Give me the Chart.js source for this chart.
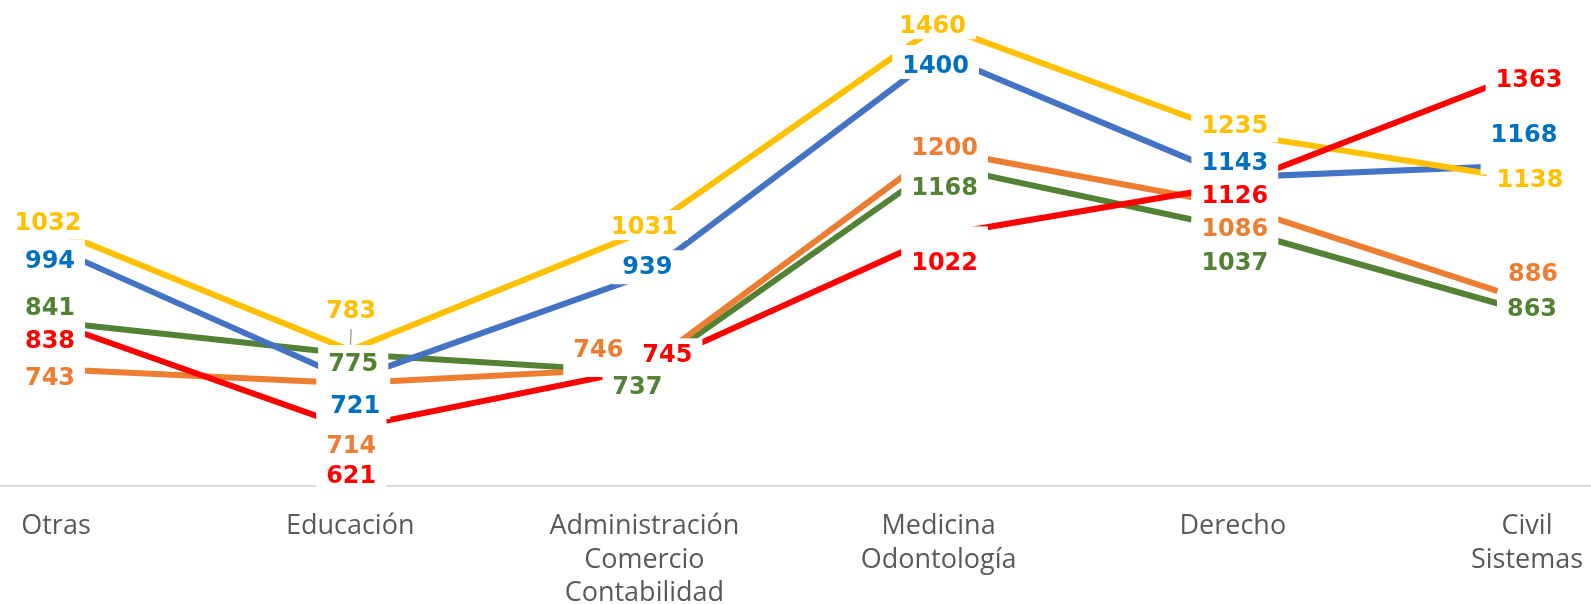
<!DOCTYPE html>
<html>
<head>
<meta charset="utf-8">
<script src="https://cdn.jsdelivr.net/npm/chart.js@4.4.0/dist/chart.umd.min.js"></script>
<style>
    html, body { margin: 0; padding: 0; background: #ffffff; }
    #contenedor { width: 1591px; height: 604px; }
</style>
</head>
<body>
<div id="contenedor"><canvas id="graficoCarreras" width="1591" height="604"></canvas></div>
<script>
// DATOS DEL GRAFICO
const categorias = [
    ["Otras"],
    ["Educación"],
    ["Administración", "Comercio", "Contabilidad"],
    ["Medicina", "Odontología"],
    ["Derecho"],
    ["Civil", "Sistemas"]
];
const serieAmarilla = [1032, 783, 1031, 1460, 1235, 1138];
const serieAzul = [994, 721, 939, 1400, 1143, 1168];
const serieVerde = [841, 775, 737, 1168, 1037, 863];
const serieRoja = [838, 621, 745, 1022, 1126, 1363];
const serieNaranja = [743, 714, 746, 1200, 1086, 886];
const ejeMin = 500;
const ejeMax = 1500;

// desplazamiento de cada etiqueta respecto a su punto [dx, dy, lineaGuia]
const posAmarilla = [[-8, -10], [1, -41, true], [0, -6], [-6, -1], [2, -9], [3, -2]];
const posAzul = [[-6, 10], [5, 24], [3, -10], [-3, 10], [2, -16], [-3, -32]];
const posVerde = [[-6, -16], [3, 8], [-7, 13], [6, 21], [2, 33], [5, -5]];
const posRoja = [[-6, 15], [1, 46], [23, -15], [6, 26], [2, 8], [2, 6]];
const posNaranja = [[-6, 7], [1, 61], [-46, -20], [6, -4], [2, 22], [6, -29]];

const fuenteEtiquetas = 'bold 24px "DejaVu Sans"';

// dibuja la linea del eje y las etiquetas con fondo blanco
const etiquetasPlugin = {
    id: 'etiquetas',
    beforeDatasetsDraw(chart) {
        const ctx = chart.ctx;
        const y = chart.chartArea.bottom;
        ctx.save();
        ctx.strokeStyle = '#d9d9d9';
        ctx.lineWidth = 2;
        ctx.beginPath();
        ctx.moveTo(0, y);
        ctx.lineTo(chart.width, y);
        ctx.stroke();
        ctx.restore();
    },
    afterDatasetsDraw(chart) {
        const ctx = chart.ctx;
        ctx.save();
        ctx.font = fuenteEtiquetas;
        const cajas = [];
        chart.data.datasets.forEach((ds, i) => {
            const meta = chart.getDatasetMeta(i);
            meta.data.forEach((pt, j) => {
                const pos = ds.posEtiquetas[j];
                const texto = String(ds.data[j]);
                const w = ctx.measureText(texto).width;
                const cx = pt.x + pos[0];
                const cy = pt.y + pos[1];
                let x0 = cx - w / 2 - 10, x1 = cx + w / 2 + 10;
                let y0 = cy - 15, y1 = cy + 15;
                if (!pos[2]) {
                    x0 = Math.min(x0, pt.x - 10);
                    x1 = Math.max(x1, pt.x + 10);
                    y0 = Math.min(y0, pt.y - 9);
                    y1 = Math.max(y1, pt.y + 9);
                }
                cajas.push({ texto, cx, cy, x0, x1, y0, y1, guia: pos[2], pt, color: ds.colorEtiqueta });
            });
        });

        // lineas guia
        cajas.filter(c => c.guia).forEach(c => {
            ctx.strokeStyle = '#a6a6a6';
            ctx.lineWidth = 1.5;
            ctx.beginPath();
            ctx.moveTo(c.cx, c.y1 + 5);
            ctx.lineTo(c.pt.x, c.pt.y - 2);
            ctx.stroke();
        });

        ctx.fillStyle = '#ffffff';
        cajas.forEach(c => ctx.fillRect(c.x0, c.y0, c.x1 - c.x0, c.y1 - c.y0));

        ctx.textAlign = 'center';
        ctx.textBaseline = 'alphabetic';
        cajas.forEach(c => {
            ctx.fillStyle = c.color;
            ctx.fillText(c.texto, c.cx, c.cy + 9);
        });
        ctx.restore();
    }
};

function crearSerie(datos, colorLinea, colorEtiqueta, pos) {
    return {
        data: datos,
        borderColor: colorLinea,
        backgroundColor: colorLinea,
        colorEtiqueta: colorEtiqueta,
        posEtiquetas: pos,
        borderWidth: 6,
        tension: 0,
        pointRadius: 0,
        pointHoverRadius: 0,
        fill: false
    };
}

document.addEventListener("DOMContentLoaded", function () {
    const ctx = document.getElementById('graficoCarreras').getContext('2d');
    new Chart(ctx, {
        type: 'line',
        data: {
            labels: categorias,
            datasets: [
                crearSerie(serieRoja, '#ff0000', '#ff0000', posRoja),
                crearSerie(serieAmarilla, '#ffc000', '#ffc000', posAmarilla),
                crearSerie(serieAzul, '#4472c4', '#0070c0', posAzul),
                crearSerie(serieNaranja, '#ed7d31', '#ed7d31', posNaranja),
                crearSerie(serieVerde, '#548235', '#548235', posVerde)
            ]
        },
        options: {
            responsive: false,
            animation: false,
            devicePixelRatio: 1,
            layout: {
                padding: { left: 56, right: 64, top: 6, bottom: 0 }
            },
            scales: {
                x: {
                    offset: false,
                    grid: { display: false, drawTicks: false },
                    border: { display: false },
                    ticks: {
                        color: '#595959',
                        font: { family: '"Open Sans"', size: 27, lineHeight: 1.24 },
                        padding: 24,
                        maxRotation: 0,
                        autoSkip: false
                    },
                    afterFit(escala) {
                        escala.height = 118;
                        escala.paddingLeft = 0;
                        escala.paddingRight = 0;
                    }
                },
                y: {
                    display: false,
                    min: ejeMin,
                    max: ejeMax
                }
            },
            plugins: {
                legend: { display: false },
                tooltip: { enabled: false }
            }
        },
        plugins: [etiquetasPlugin]
    });
});
</script>
</body>
</html>
